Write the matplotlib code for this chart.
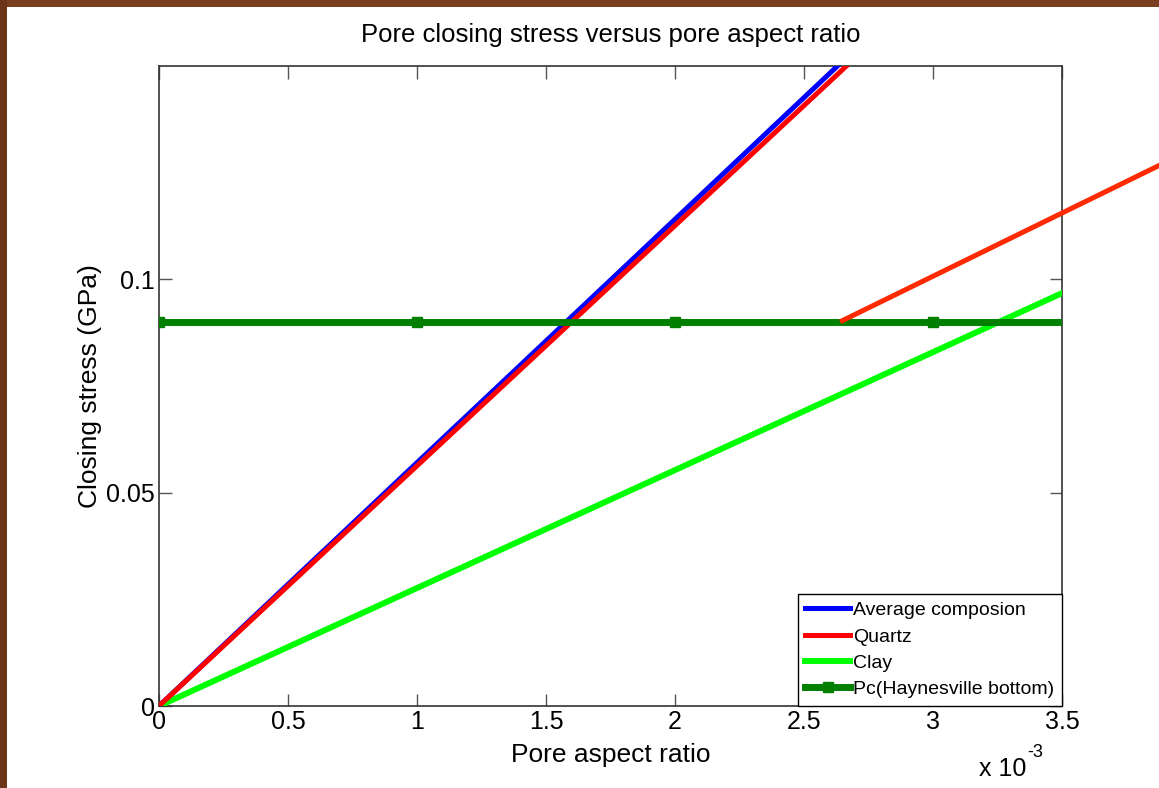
import matplotlib.pyplot as plt
from matplotlib.patches import Rectangle

plt.rcParams['font.family'] = ['Liberation Sans', 'DejaVu Sans']

# Pore aspect ratio range and closing stress (GPa) at its ends
aspect = [0.0, 0.0035]
avg_stress = [0.0, 0.1995]
quartz_stress = [0.0, 0.1969]
clay_stress = [0.0, 0.0967]

# Confining pressure, Haynesville bottom
pc_aspect = [0.0, 0.001, 0.002, 0.003, 0.0035]
pc_stress = [0.09, 0.09, 0.09, 0.09, 0.09]

# hand-drawn quartz guide line past the crossing point
guide_aspect = [0.00264, 0.0039]
guide_stress = [0.09, 0.1273]

xticks = [0, 0.0005, 0.001, 0.0015, 0.002, 0.0025, 0.003, 0.0035]
xticklabels = ['0', '0.5', '1', '1.5', '2', '2.5', '3', '3.5']
yticks = [0, 0.05, 0.1]
yticklabels = ['0', '0.05', '0.1']

fig = plt.figure(figsize=(11.59, 7.88), dpi=100)
fig.patch.set_facecolor('white')

# slide frame (brown strips on top and left)
fig.add_artist(Rectangle((0, 1 - 7 / 788), 1, 7 / 788, transform=fig.transFigure,
                         facecolor='#7a3f21', edgecolor='none', zorder=0))
fig.add_artist(Rectangle((0, 0), 7 / 1159, 1, transform=fig.transFigure,
                         facecolor='#6b3519', edgecolor='none', zorder=0))

ax = fig.add_axes([159 / 1159, 82 / 788, 903 / 1159, 640 / 788])

ax.plot(aspect, avg_stress, color='#0000ff', lw=3.6, label='Average composion', zorder=3)
ax.plot(aspect, quartz_stress, color='#ff0000', lw=3.6, label='Quartz', zorder=4)
ax.plot(aspect, clay_stress, color='#00ff00', lw=4.3, label='Clay', zorder=3)
ax.plot(pc_aspect, pc_stress, color='#007f00', lw=5.0, marker='s', markersize=6.5,
        markevery=[0, 1, 2, 3], label='Pc(Haynesville bottom)', zorder=5)
ax.plot(guide_aspect, guide_stress, color='#ff2a00', lw=3.6, clip_on=False,
        solid_capstyle='butt', zorder=6)

ax.set_xlim(0, 0.0035)
ax.set_ylim(0, 0.1499)
ax.set_xticks(xticks)
ax.set_xticklabels(xticklabels)
ax.set_yticks(yticks)
ax.set_yticklabels(yticklabels)
ax.tick_params(direction='in', length=9, width=1, color='#555555', labelsize=18,
               top=True, right=True, pad=3)
for s in ax.spines.values():
    s.set_color('#333333')
    s.set_linewidth(1.2)

ax.set_title('Pore closing stress versus pore aspect ratio', fontsize=18.5, pad=17)
ax.set_xlabel('Pore aspect ratio', fontsize=19)
ax.xaxis.set_label_coords(0.5, -0.058)
ax.set_ylabel('Closing stress (GPa)', fontsize=19)
ax.yaxis.set_label_coords(-0.063, 0.5)

# exponent label, with a plain hyphen as the sign
ax.text(0.96, -0.08, 'x 10', transform=ax.transAxes, ha='right', va='top', fontsize=18)
ax.text(0.961, -0.06, '-3', transform=ax.transAxes, ha='left', va='top', fontsize=13)

leg = ax.legend(loc='lower right', fontsize=14, handlelength=2.3, handletextpad=0.15,
                borderaxespad=0, fancybox=False, framealpha=1, edgecolor='black',
                labelspacing=0.45, borderpad=0.4)
leg.get_frame().set_linewidth(1.0)

fig.savefig('out.png', dpi=100, facecolor=fig.get_facecolor())
